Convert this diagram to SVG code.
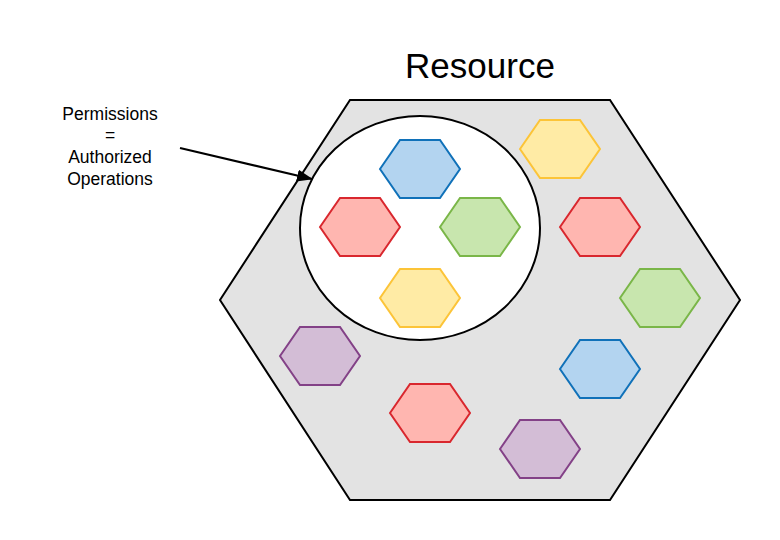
<svg xmlns="http://www.w3.org/2000/svg" width="780" height="540" viewBox="0 0 780 540">
<defs>
<style>
text{font-family:"Liberation Sans",Arial,sans-serif;fill:#000}
.hx{stroke-width:2}
.blue{fill:#b3d4f0;stroke:#1071b9}
.red{fill:#ffb6b0;stroke:#d9272e}
.green{fill:#c8e6ae;stroke:#7ab648}
.yellow{fill:#ffeba5;stroke:#fcc438}
.purple{fill:#d3bdd6;stroke:#834187}
.lbl{font-size:17.5px;text-anchor:middle}
</style>
<polygon id="h" points="0,29 20,0 60,0 80,29 60,58 20,58"/>
<marker id="arr" viewBox="0 0 16 12" refX="15" refY="6" markerWidth="16" markerHeight="12" orient="auto" markerUnits="userSpaceOnUse"><path d="M0,0 L16,6 L0,12 Z" fill="#000"/></marker>
</defs>
<rect width="780" height="540" fill="#fff"/>
<g id="resource">
<polygon points="350,100 610,100 740,300 610,500 350,500 220,300" fill="#e3e3e3" stroke="#000" stroke-width="2"/>
<text x="480" y="78" font-size="35" text-anchor="middle">Resource</text>
</g>
<g id="permissions-set">
<ellipse cx="420" cy="228" rx="120" ry="112" fill="#fff" stroke="#000" stroke-width="2"/>
</g>
<g id="ops">
<use href="#h" class="hx blue" x="380" y="140"/>
<use href="#h" class="hx yellow" x="520" y="120"/>
<use href="#h" class="hx red" x="320" y="198"/>
<use href="#h" class="hx green" x="440" y="198"/>
<use href="#h" class="hx red" x="560" y="198"/>
<use href="#h" class="hx yellow" x="380" y="269"/>
<use href="#h" class="hx green" x="620" y="269"/>
<use href="#h" class="hx purple" x="280" y="327"/>
<use href="#h" class="hx blue" x="560" y="340"/>
<use href="#h" class="hx red" x="390" y="384"/>
<use href="#h" class="hx purple" x="500" y="420"/>
</g>
<g id="label">
<text class="lbl" x="110" y="120">Permissions</text>
<text class="lbl" x="110" y="141">=</text>
<text class="lbl" x="110" y="163">Authorized</text>
<text class="lbl" x="110" y="185">Operations</text>
</g>
<g id="connectors">
<line x1="180" y1="148" x2="312" y2="179" stroke="#000" stroke-width="2" marker-end="url(#arr)"/>
</g>
</svg>
